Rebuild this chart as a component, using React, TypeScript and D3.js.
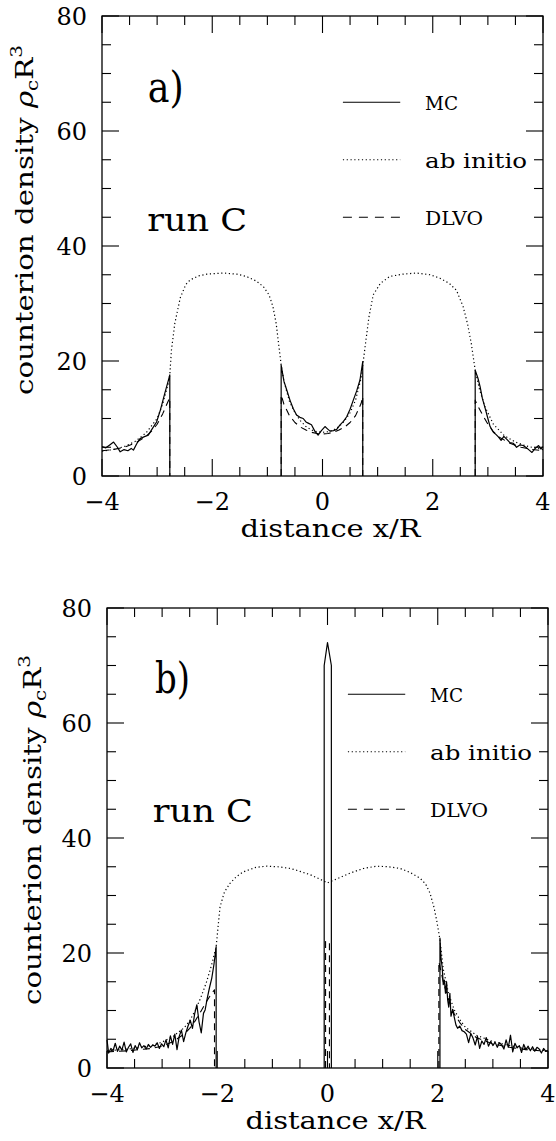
import React from 'react';
import * as d3 from 'd3';

type Pt = [number, number];

// ---------- axis data ----------
const xMajorTicks = [-4, -2, 0, 2, 4];
const xTickLabels = ['\u22124', '\u22122', '0', '2', '4'];
const yMajorTicks = [0, 20, 40, 60, 80];
const yTickLabels = ['0', '20', '40', '60', '80'];
const legendNames = ['MC', 'ab initio', 'DLVO'];
const legendLevels = [65, 55, 45];

// ---------- panel a ----------
const mcA_left: Pt[] = [
  [-4.0, 5.1], [-3.93, 4.9], [-3.86, 5.4], [-3.79, 5.9], [-3.72, 5.0], [-3.67, 4.2], [-3.6, 4.6],
  [-3.53, 4.4], [-3.47, 4.8], [-3.43, 4.5], [-3.37, 5.6], [-3.31, 6.5], [-3.24, 6.8], [-3.16, 7.1],
  [-3.09, 8.2], [-3.01, 9.4], [-2.94, 11.5], [-2.86, 14.4], [-2.8, 16.5], [-2.77, 17.6], [-2.77, 0],
];
const mcA_mid: Pt[] = [
  [-0.75, 0], [-0.75, 19.3], [-0.7, 16.5], [-0.65, 15.0], [-0.59, 13.2], [-0.53, 11.7], [-0.47, 10.6],
  [-0.41, 10.2], [-0.35, 10.0], [-0.3, 9.4], [-0.26, 9.2], [-0.2, 8.9], [-0.14, 7.8], [-0.08, 7.1],
  [-0.02, 7.9], [0.045, 8.6], [0.09, 8.2], [0.136, 7.8], [0.2, 7.9], [0.258, 8.1], [0.318, 8.9],
  [0.38, 9.5], [0.439, 10.3], [0.5, 11.6], [0.559, 13.2], [0.62, 14.8], [0.68, 16.7], [0.73, 19.9], [0.73, 0],
];
const mcA_right: Pt[] = [
  [2.77, 0], [2.77, 18.4], [2.82, 17.0], [2.86, 15.5], [2.9, 13.5], [2.95, 11.8], [3.0, 10.0], [3.04, 8.6],
  [3.1, 7.6], [3.15, 7.2], [3.19, 6.8], [3.24, 6.2], [3.29, 6.9], [3.34, 6.4], [3.4, 5.8], [3.46, 5.7],
  [3.52, 5.0], [3.58, 5.4], [3.64, 5.3], [3.7, 4.9], [3.75, 4.5], [3.8, 4.1], [3.86, 4.8], [3.92, 5.3],
  [3.96, 4.7], [4.0, 5.1],
];
const dlvoA_left: Pt[] = [
  [-4.0, 4.4], [-3.8, 4.6], [-3.6, 5.0], [-3.4, 5.7], [-3.2, 6.9], [-3.1, 7.8], [-3.0, 9.0], [-2.9, 10.8],
  [-2.8, 13.0], [-2.77, 13.6], [-2.77, 0],
];
const dlvoA_mid: Pt[] = [
  [-0.75, 0], [-0.75, 14.1], [-0.7, 12.5], [-0.6, 10.5], [-0.5, 9.3], [-0.4, 8.5], [-0.3, 8.0], [-0.2, 7.6],
  [-0.1, 7.4], [0, 7.3], [0.1, 7.4], [0.2, 7.6], [0.3, 8.0], [0.4, 8.5], [0.5, 9.3], [0.6, 10.5],
  [0.7, 12.6], [0.73, 13.8], [0.73, 0],
];
const dlvoA_right: Pt[] = [
  [2.77, 0], [2.77, 13.2], [2.8, 12.5], [2.9, 10.7], [3.0, 9.0], [3.1, 7.7], [3.2, 6.8], [3.4, 5.7],
  [3.6, 5.0], [3.8, 4.6], [4.0, 4.4],
];
const abA: Pt[] = [
  [-4.0, 4.3], [-3.8, 4.6], [-3.6, 5.1], [-3.4, 6.0], [-3.2, 7.5], [-3.0, 10.0], [-2.9, 12.5], [-2.8, 16.0],
  [-2.77, 17.6], [-2.74, 21.9], [-2.68, 26.5], [-2.58, 31.0], [-2.48, 33.3], [-2.4, 34.1], [-2.25, 34.8],
  [-2.1, 35.1], [-1.8, 35.3], [-1.55, 35.1], [-1.38, 34.7], [-1.2, 33.9], [-1.07, 32.9], [-0.97, 31.5],
  [-0.9, 29.5], [-0.84, 26.5], [-0.79, 22.5], [-0.75, 19.3], [-0.7, 16.5], [-0.6, 13.0], [-0.5, 11.0],
  [-0.4, 9.6], [-0.3, 8.6], [-0.2, 8.0], [-0.1, 7.7], [0, 7.6], [0.1, 7.7], [0.2, 8.0], [0.3, 8.6],
  [0.4, 9.6], [0.5, 11.0], [0.6, 13.2], [0.7, 17.0], [0.74, 20.0], [0.78, 23.0], [0.84, 27.5], [0.92, 31.5],
  [1.05, 33.5], [1.22, 34.7], [1.45, 35.1], [1.71, 35.3], [1.95, 35.0], [2.13, 34.4], [2.3, 33.5],
  [2.43, 32.3], [2.55, 29.5], [2.63, 26.5], [2.7, 23.0], [2.77, 18.4], [2.85, 15.0], [2.95, 12.0],
  [3.1, 9.0], [3.3, 7.0], [3.5, 5.9], [3.7, 5.2], [3.9, 4.8], [4.0, 4.6],
];

// ---------- panel b ----------
const mcB_left: Pt[] = [
  [-4.0, 4.9], [-3.97, 2.6], [-3.93, 3.4], [-3.89, 3.0], [-3.85, 4.3], [-3.81, 2.9], [-3.77, 3.8],
  [-3.73, 3.1], [-3.69, 4.5], [-3.65, 2.8], [-3.61, 3.6], [-3.57, 4.2], [-3.53, 2.7], [-3.49, 3.9],
  [-3.45, 3.2], [-3.41, 4.4], [-3.37, 3.5], [-3.33, 3.9], [-3.29, 3.3], [-3.25, 4.1], [-3.21, 3.6],
  [-3.17, 4.0], [-3.13, 3.8], [-3.09, 4.4], [-3.05, 3.4], [-3.01, 4.2], [-2.97, 3.7], [-2.93, 4.9],
  [-2.89, 3.5], [-2.85, 5.6], [-2.81, 4.1], [-2.77, 5.9], [-2.73, 3.2], [-2.69, 5.5], [-2.65, 6.6],
  [-2.61, 4.6], [-2.57, 6.1], [-2.53, 7.3], [-2.49, 8.3], [-2.45, 6.9], [-2.41, 9.4], [-2.37, 11.0],
  [-2.33, 8.0], [-2.29, 6.1], [-2.25, 9.5], [-2.22, 10.1], [-2.18, 12.2], [-2.14, 14.0], [-2.1, 15.6],
  [-2.06, 18.0], [-2.02, 21.1], [-2.02, 0],
];
const mcB_center: Pt[] = [[-0.06, 0], [-0.06, 70], [0.0, 74], [0.07, 70], [0.07, 0]];
const mcB_right: Pt[] = [
  [2.04, 0], [2.04, 22.6], [2.06, 19.0], [2.08, 17.6], [2.1, 14.5], [2.12, 15.3], [2.14, 13.0],
  [2.16, 15.0], [2.18, 11.8], [2.2, 10.6], [2.22, 13.0], [2.24, 9.0], [2.27, 10.2], [2.3, 8.8],
  [2.33, 7.5], [2.36, 6.9], [2.4, 7.3], [2.44, 6.5], [2.48, 6.3], [2.52, 5.9], [2.56, 4.4], [2.6, 6.0],
  [2.64, 5.2], [2.68, 4.0], [2.72, 5.5], [2.76, 3.4], [2.8, 4.7], [2.84, 4.1], [2.88, 5.3], [2.92, 3.8],
  [2.96, 4.6], [3.0, 3.9], [3.04, 4.5], [3.08, 3.6], [3.12, 4.4], [3.16, 4.0], [3.2, 3.3], [3.24, 4.9],
  [3.28, 3.6], [3.32, 5.7], [3.36, 2.8], [3.4, 4.3], [3.44, 3.5], [3.48, 3.9], [3.52, 2.7], [3.56, 4.1],
  [3.6, 3.2], [3.64, 3.8], [3.68, 3.0], [3.72, 3.7], [3.76, 2.9], [3.8, 3.6], [3.84, 3.3], [3.88, 2.6],
  [3.92, 3.4], [3.96, 2.9], [4.0, 3.1],
];
const dlvoB_left: Pt[] = [
  [-4.0, 2.8], [-3.6, 3.0], [-3.2, 3.4], [-3.0, 3.8], [-2.8, 4.6], [-2.6, 5.9], [-2.5, 6.9], [-2.4, 8.2],
  [-2.3, 9.8], [-2.2, 11.5], [-2.1, 13.0], [-2.05, 13.6], [-2.05, 0],
];
const dlvoB_center: Pt[] = [[-0.035, 0], [-0.035, 22], [0.035, 22], [0.035, 0]];
const dlvoB_right: Pt[] = [
  [2.02, 0], [2.02, 18.5], [2.1, 15.0], [2.2, 11.8], [2.3, 9.4], [2.4, 7.9], [2.5, 6.7], [2.7, 5.3],
  [3.0, 4.2], [3.3, 3.6], [3.6, 3.2], [4.0, 2.9],
];
const abB: Pt[] = [
  [-4.0, 3.0], [-3.6, 3.3], [-3.2, 3.9], [-3.0, 4.5], [-2.8, 5.5], [-2.6, 7.0], [-2.5, 8.2], [-2.4, 10.0],
  [-2.3, 12.2], [-2.2, 14.8], [-2.1, 18.0], [-2.02, 21.1], [-1.95, 28.0], [-1.87, 30.6], [-1.77, 32.1],
  [-1.65, 33.3], [-1.53, 34.1], [-1.3, 34.9], [-1.1, 35.1], [-0.9, 35.0], [-0.67, 34.7], [-0.5, 34.2],
  [-0.31, 33.6], [-0.15, 32.9], [0.0, 32.2], [0.15, 32.8], [0.41, 33.9], [0.65, 34.7], [0.89, 35.1],
  [1.1, 35.0], [1.32, 34.7], [1.5, 34.0], [1.68, 33.0], [1.78, 32.0], [1.86, 30.4], [1.93, 28.0],
  [1.98, 25.7], [2.04, 22.3], [2.1, 17.2], [2.2, 12.8], [2.3, 10.1], [2.4, 8.4], [2.5, 7.1], [2.7, 5.7],
  [3.0, 4.6], [3.3, 3.9], [3.6, 3.4], [4.0, 3.0],
];

const W = 441;
const H = 460;
const FONT = 'DejaVu Serif';
const DOT = '1.2 2.6';
const DASH = '7 5';

interface PanelProps {
  left: number;
  top: number;
  tag: string;
  tagX: number;
  tagY: number;
  tagW: number;
  runX: number;
  runY: number;
  titleX: number;
  titleY: number;
  mc: Pt[][];
  dlvo: Pt[][];
  ab: Pt[];
}

function Panel(p: PanelProps) {
  const x = d3.scaleLinear().domain([-4, 4]).range([0, W]);
  const y = d3.scaleLinear().domain([0, 80]).range([H, 0]);
  const line = d3.line<Pt>().x((d) => x(d[0])).y((d) => y(d[1]));
  const xMinor = d3.range(-4, 4.001, 0.5).filter((t) => !xMajorTicks.includes(t));
  const yMinor = d3.range(0, 80.001, 5).filter((t) => !yMajorTicks.includes(t));
  const MAJ = 17;
  const MIN = 9;
  const SG = 'spacingAndGlyphs';
  return (
    <g transform={`translate(${p.left},${p.top})`} style={{ fontFamily: FONT }} fill="#000">
      {/* curves */}
      <g fill="none" stroke="#000" strokeLinejoin="round">
        <path d={line(p.ab) || ''} strokeWidth={1.2} strokeDasharray={DOT} />
        {p.dlvo.map((s, i) => (
          <path key={'d' + i} d={line(s) || ''} strokeWidth={1.1} strokeDasharray={DASH} />
        ))}
        {p.mc.map((s, i) => (
          <path key={'m' + i} d={line(s) || ''} strokeWidth={1.2} />
        ))}
      </g>
      {/* frame */}
      <rect x={0} y={0} width={W} height={H} fill="none" stroke="#000" strokeWidth={1.3} />
      {/* ticks */}
      <g stroke="#000" strokeWidth={1.1}>
        {xMajorTicks.map((t) => (
          <g key={'xm' + t}>
            <line x1={x(t)} x2={x(t)} y1={H} y2={H - MAJ} />
            <line x1={x(t)} x2={x(t)} y1={0} y2={MAJ} />
          </g>
        ))}
        {xMinor.map((t) => (
          <g key={'xn' + t}>
            <line x1={x(t)} x2={x(t)} y1={H} y2={H - MIN} />
            <line x1={x(t)} x2={x(t)} y1={0} y2={MIN} />
          </g>
        ))}
        {yMajorTicks.map((t) => (
          <g key={'ym' + t}>
            <line x1={0} x2={MAJ} y1={y(t)} y2={y(t)} />
            <line x1={W} x2={W - MAJ} y1={y(t)} y2={y(t)} />
          </g>
        ))}
        {yMinor.map((t) => (
          <g key={'yn' + t}>
            <line x1={0} x2={MIN} y1={y(t)} y2={y(t)} />
            <line x1={W} x2={W - MIN} y1={y(t)} y2={y(t)} />
          </g>
        ))}
      </g>
      {/* tick labels */}
      {xMajorTicks.map((t, i) => (
        <text key={'xl' + t} x={x(t)} y={H + 34} fontSize={24} textAnchor="middle">
          {xTickLabels[i]}
        </text>
      ))}
      {yMajorTicks.map((t, i) => (
        <text key={'yl' + t} x={-15} y={y(t) + 9} fontSize={24} textAnchor="end">
          {yTickLabels[i]}
        </text>
      ))}
      {/* axis titles */}
      <text x={x(0) + 8} y={H + 61} fontSize={24} textAnchor="middle" textLength={180} lengthAdjust={SG}>
        distance x/R
      </text>
      <text
        transform={`translate(${p.titleX},${p.titleY}) rotate(-90)`}
        fontSize={25}
        textAnchor="middle"
        textLength={350}
        lengthAdjust={SG}
      >
        counterion density <tspan fontStyle="italic">ρ</tspan>
        <tspan fontSize={17} dy={5}>c</tspan>
        <tspan fontSize={25} dy={-5}>R</tspan>
        <tspan fontSize={17} dy={-11}>3</tspan>
      </text>
      {/* panel tag and run label */}
      <text x={x(p.tagX)} y={y(p.tagY)} fontSize={42} textLength={p.tagW} lengthAdjust={SG}>
        {p.tag}
      </text>
      <text x={x(p.runX)} y={y(p.runY)} fontSize={31} textLength={100} lengthAdjust={SG}>
        run C
      </text>
      {/* legend */}
      <g stroke="#000" fill="none">
        <line x1={x(0.37)} x2={x(1.41)} y1={y(legendLevels[0])} y2={y(legendLevels[0])} strokeWidth={1.2} />
        <line x1={x(0.37)} x2={x(1.41)} y1={y(legendLevels[1])} y2={y(legendLevels[1])} strokeWidth={1.2} strokeDasharray={DOT} />
        <line x1={x(0.37)} x2={x(1.41)} y1={y(legendLevels[2])} y2={y(legendLevels[2])} strokeWidth={1.1} strokeDasharray="9 7" />
      </g>
      <text x={x(1.86)} y={y(legendLevels[0]) + 8} fontSize={18} textLength={33} lengthAdjust={SG}>
        {legendNames[0]}
      </text>
      <text x={x(1.86)} y={y(legendLevels[1]) + 8} fontSize={20} textLength={102} lengthAdjust={SG}>
        {legendNames[1]}
      </text>
      <text x={x(1.86)} y={y(legendLevels[2]) + 8} fontSize={18} textLength={58} lengthAdjust={SG}>
        {legendNames[2]}
      </text>
    </g>
  );
}

export default function App() {
  return (
    <svg
      width={556}
      height={1141}
      viewBox="0 0 556 1141"
      style={{ position: 'absolute', left: 0, top: 0, background: '#fff' }}
    >
      <rect width={556} height={1141} fill="#fff" />
      <Panel
        left={102}
        top={16}
        tag="a)"
        tagX={-3.17}
        tagY={65}
        tagW={36}
        runX={-3.18}
        runY={42.6}
        titleX={-69}
        titleY={204}
        mc={[mcA_left, mcA_mid, mcA_right]}
        dlvo={[dlvoA_left, dlvoA_mid, dlvoA_right]}
        ab={abA}
      />
      <Panel
        left={107}
        top={608}
        tag="b)"
        tagX={-3.13}
        tagY={65.2}
        tagW={35}
        runX={-3.17}
        runY={42.8}
        titleX={-66}
        titleY={222}
        mc={[mcB_left, mcB_center, mcB_right]}
        dlvo={[dlvoB_left, dlvoB_center, dlvoB_right]}
        ab={abB}
      />
    </svg>
  );
}
